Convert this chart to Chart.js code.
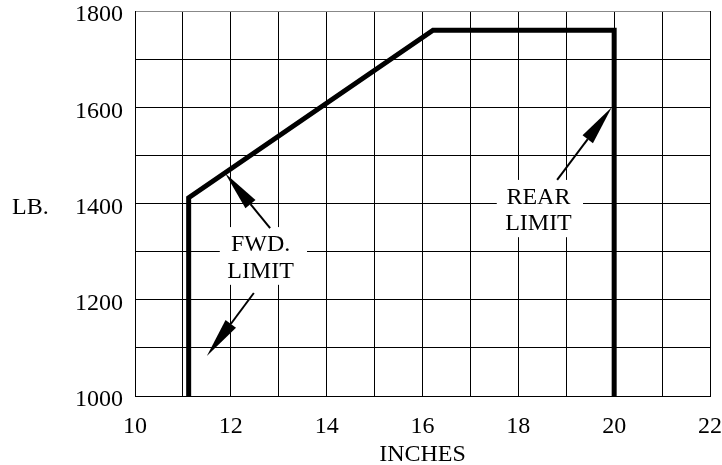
<!DOCTYPE html>
<html>
<head>
<meta charset="utf-8">
<script src="https://cdn.jsdelivr.net/npm/chart.js@4"></script>
<style>
html,body{margin:0;padding:0;background:#fff;}
#wrap{width:722px;height:465px;}
</style>
</head>
<body>
<div id="wrap"><canvas id="c" width="722" height="465"></canvas></div>
<script>
// Envelope data (inches, lb)
const envelopeX = [11.12, 11.12, 16.22, 20.0, 20.0];
const envelopeY = [1000, 1412, 1760, 1760, 1000];

// Axis ranges / tick labels
const xTickLabels = [10, 12, 14, 16, 18, 20, 22];
const yTickLabels = [1000, 1200, 1400, 1600, 1800];
const xTitle = 'INCHES';
const yTitle = 'LB.';

// Annotation texts
const fwdText = ['FWD.', 'LIMIT'];
const rearText = ['REAR', 'LIMIT'];

// Annotation geometry in data units
const annoBoxes = [
  {x0: 11.77, x1: 13.59, y0: 1231, y1: 1351},
  {x0: 17.55, x1: 19.35, y0: 1330, y1: 1449}
];
const annoTexts = [
  {lines: fwdText, x: 12.62, y: [1314, 1258]},
  {lines: rearText, x: 18.42, y: [1413, 1359]}
];
const annoArrows = [
  {from: [12.82, 1349], to: [11.88, 1463]},
  {from: [12.48, 1214], to: [11.50, 1083]},
  {from: [18.81, 1449], to: [19.95, 1600]}
];

const FONT = 'Liberation Serif';
const FSIZE = 24;

const annotPlugin = {
  id: 'annot',
  beforeDatasetsDraw(chart) {
    const {ctx, scales: {x, y}} = chart;
    ctx.save();
    ctx.fillStyle = '#fff';
    annoBoxes.forEach(b => {
      const px0 = x.getPixelForValue(b.x0), px1 = x.getPixelForValue(b.x1);
      const py0 = y.getPixelForValue(b.y1), py1 = y.getPixelForValue(b.y0);
      ctx.fillRect(px0, py0, px1 - px0, py1 - py0);
    });
    ctx.restore();
  },
  afterDatasetsDraw(chart) {
    const {ctx, scales: {x, y}} = chart;
    ctx.save();
    ctx.fillStyle = '#000';
    ctx.font = FSIZE + 'px "' + FONT + '"';
    ctx.textAlign = 'center';
    ctx.textBaseline = 'middle';
    annoTexts.forEach(t => {
      t.lines.forEach((s, i) => {
        ctx.fillText(s, x.getPixelForValue(t.x), y.getPixelForValue(t.y[i]));
      });
    });
    // arrows
    ctx.strokeStyle = '#000';
    ctx.lineWidth = 2;
    annoArrows.forEach(a => {
      const fx = x.getPixelForValue(a.from[0]), fy = y.getPixelForValue(a.from[1]);
      const tx = x.getPixelForValue(a.to[0]), ty = y.getPixelForValue(a.to[1]);
      const ang = Math.atan2(ty - fy, tx - fx);
      const len = 40, hw = 6.5;
      const bx = tx - len * Math.cos(ang), by = ty - len * Math.sin(ang);
      ctx.beginPath();
      ctx.moveTo(fx, fy);
      ctx.lineTo(bx, by);
      ctx.stroke();
      ctx.beginPath();
      ctx.moveTo(tx, ty);
      ctx.lineTo(bx + hw * Math.sin(ang), by - hw * Math.cos(ang));
      ctx.lineTo(bx - hw * Math.sin(ang), by + hw * Math.cos(ang));
      ctx.closePath();
      ctx.fill();
    });
    // y title
    ctx.textAlign = 'left';
    ctx.fillText(yTitle, 12, y.getPixelForValue(1400) + 4);
    ctx.restore();
  }
};

new Chart(document.getElementById('c'), {
  type: 'scatter',
  data: {
    datasets: [{
      data: envelopeX.map((v, i) => ({x: v, y: envelopeY[i]})),
      showLine: true,
      borderColor: '#000',
      borderWidth: 5,
      pointRadius: 0,
      tension: 0,
      fill: false,
      clip: false,
      borderJoinStyle: 'miter'
    }]
  },
  options: {
    responsive: false,
    devicePixelRatio: 1,
    animation: false,
    layout: {padding: {top: 11, right: 12, left: 0, bottom: 0}},
    plugins: {legend: {display: false}, tooltip: {enabled: false}},
    scales: {
      x: {
        type: 'linear',
        min: xTickLabels[0],
        max: xTickLabels[xTickLabels.length - 1],
        afterFit(s) { s.height = 69; s.paddingLeft = 0; s.paddingRight = 0; },
        ticks: {
          stepSize: 1,
          autoSkip: false,
          maxRotation: 0,
          padding: 16,
          color: '#000',
          font: {family: FONT, size: FSIZE},
          callback: v => xTickLabels.includes(v) ? String(v) : ''
        },
        grid: {color: '#000', lineWidth: 1, drawTicks: false},
        border: {color: '#000', width: 1},
        title: {display: true, text: xTitle, color: '#000', font: {family: FONT, size: FSIZE, lineHeight: 0.85}, padding: {top: 3, bottom: 0}}
      },
      y: {
        type: 'linear',
        min: yTickLabels[0],
        max: yTickLabels[yTickLabels.length - 1],
        afterFit(s) { s.width = 135; s.paddingTop = 0; s.paddingBottom = 0; },
        ticks: {
          stepSize: 100,
          autoSkip: false,
          padding: 12,
          color: '#000',
          font: {family: FONT, size: FSIZE, lineHeight: '8px'},
          callback: v => yTickLabels.includes(v) ? ['', String(v)] : ''
        },
        grid: {
          color: c => (c.tick && c.tick.value === 1800) ? '#888' : '#000',
          lineWidth: 1,
          drawTicks: false
        },
        border: {color: '#000', width: 1}
      }
    }
  },
  plugins: [annotPlugin]
});
</script>
</body>
</html>
